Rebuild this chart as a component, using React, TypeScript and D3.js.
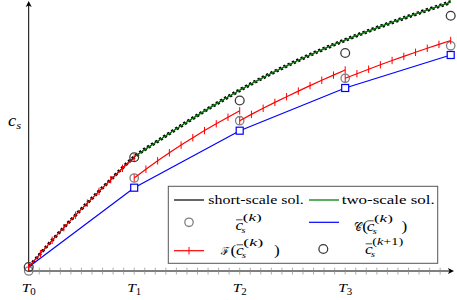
import React from 'react';
import * as d3 from 'd3';

// macro time levels T_0 .. T_4 (units of T)
const macroT = [0, 1, 2, 3, 4];
const macroLabels = ['0', '1', '2', '3'];

// short-scale solution (envelope)
const shortT = [0, 0.25, 0.5, 0.75, 1, 1.25, 1.5, 1.75, 2, 2.25, 2.5, 2.75, 3, 3.25, 3.5, 3.75, 4];
const shortC = [0.04, 0.34, 0.62, 0.885, 1.14, 1.318, 1.49, 1.654, 1.808, 1.95, 2.08, 2.2, 2.31, 2.412, 2.508, 2.6, 2.689];

// two-scale solution
const twoT = [1, 1.25, 1.5, 1.75, 2, 2.25, 2.5, 2.75, 3, 3.25, 3.5, 3.75, 4];
const twoC = [1.14, 1.318, 1.49, 1.654, 1.808, 1.95, 2.08, 2.2, 2.31, 2.412, 2.508, 2.6, 2.689];

// c̄_s^(k), c̄_s^(k+1) and C(c̄_s^(k)) at T_i
const cBarK = [0.0, 0.93, 1.503, 1.927, 2.252];
const cBarK1 = [0.04, 1.137, 1.705, 2.18, 2.553];
const coarseC = [0.04, 0.833, 1.403, 1.83, 2.16];

// F(c̄_s^(k)) on each macro interval, 10 samples each
const fineSeg1 = [0.04, 0.173, 0.307, 0.433, 0.558, 0.679, 0.797, 0.913, 1.027, 1.13];
const fineSeg2 = [0.93, 1.018, 1.102, 1.182, 1.259, 1.333, 1.404, 1.472, 1.538, 1.602];
const fineSeg3 = [1.503, 1.566, 1.627, 1.686, 1.743, 1.799, 1.854, 1.907, 1.959, 2.01];
const fineSeg4 = [1.927, 1.973, 2.018, 2.062, 2.105, 2.146, 2.187, 2.227, 2.266, 2.305];
const fineSegs = [fineSeg1, fineSeg2, fineSeg3, fineSeg4];

const serif = '"Liberation Serif", "DejaVu Serif", serif';
const SX = 1.15; // glyphs in the figure are a bit wide

// one glyph run at (x, baseline y), horizontally widened
const G: React.FC<{
  x: number;
  y: number;
  size: number;
  italic?: boolean;
  len?: number;
  sx?: number;
  children: React.ReactNode;
}> = ({ x, y, size, italic, len, sx = SX, children }) => (
  <text
    transform={`translate(${x},${y}) scale(${sx},1)`}
    fontSize={size}
    fontStyle={italic ? 'italic' : 'normal'}
    style={{ fontFamily: serif }}
    textLength={len ? len / sx : undefined}
    lengthAdjust={len ? 'spacingAndGlyphs' : undefined}
  >
    {children}
  </text>
);

// c̄_s^(k...) with c at (x, baseline y)
const CBar: React.FC<{ x: number; y: number; sup: string; supLen: number }> = ({ x, y, sup, supLen }) => (
  <g>
    <G x={x} y={y} size={15} italic>
      c
    </G>
    <line x1={x + 0.6} x2={x + 7} y1={y - 10.2} y2={y - 10.2} stroke="#000" strokeWidth={0.7} />
    <G x={x + 6} y={y + 3.2} size={9} italic>
      s
    </G>
    <G x={x + 7.2} y={y - 9.4} size={10} len={supLen}>
      (<tspan fontStyle="italic">k</tspan>
      {sup})
    </G>
  </g>
);

export default function App() {
  const width = 457;
  const height = 300;

  const x = d3.scaleLinear().domain([0, 4]).range([28.7, 450.7]);
  const y = d3.scaleLinear().domain([0, 2.7]).range([271, 1]);

  const smooth = d3
    .line<[number, number]>()
    .x((d) => x(d[0]))
    .y((d) => y(d[1]))
    .curve(d3.curveMonotoneX);
  const straight = d3
    .line<[number, number]>()
    .x((d) => x(d[0]))
    .y((d) => y(d[1]));

  const shortPath = smooth(d3.zip(shortT, shortC) as [number, number][]) || '';
  const twoPath = smooth(d3.zip(twoT, twoC) as [number, number][]) || '';
  const coarsePath = straight(d3.zip(macroT, coarseC) as [number, number][]) || '';

  const fine = fineSegs.map((seg, i) =>
    seg.map((v, j) => [macroT[i] + j / (seg.length - 1), v] as [number, number])
  );

  const x0 = x(0);
  const yAxis = y(0);
  const minorTicks = d3.range(1, 40).map((k) => k / 10);

  return (
    <svg
      width={width}
      height={height}
      style={{ position: 'absolute', left: 0, top: 0, background: '#fff', fontFamily: serif }}
    >
      {/* axes */}
      <g stroke="#000" fill="none">
        <line x1={x0} x2={x0} y1={yAxis} y2={5} strokeWidth={1} />
        <line x1={x0} x2={449} y1={yAxis} y2={yAxis} strokeWidth={1} />
        {minorTicks.map((t) => (
          <line key={t} x1={x(t)} x2={x(t)} y1={yAxis - 3.3} y2={yAxis + 3.5} stroke="#8a8a8a" strokeWidth={0.7} />
        ))}
      </g>
      <path d={`M${x0},1 L${x0 - 3},7 L${x0},5.6 L${x0 + 3},7 Z`} fill="#000" />
      <path d={`M454,${yAxis} L448,${yAxis - 3} L449.4,${yAxis} L448,${yAxis + 3} Z`} fill="#000" />

      {/* tick labels */}
      {macroLabels.map((lab, i) => (
        <g key={lab} transform={`translate(${x(macroT[i])},292) scale(${SX},1)`}>
          <text textAnchor="middle" fontSize={13.5} style={{ fontFamily: serif }}>
            <tspan fontStyle="italic">T</tspan>
            <tspan fontSize={9.5} dy={3}>
              {lab}
            </tspan>
          </text>
        </g>
      ))}
      <G x={8} y={126} size={16} italic>
        c<tspan fontSize={11} dy={3}>s</tspan>
      </G>

      {/* short-scale solution with fast oscillation */}
      <path d={shortPath} fill="none" stroke="#000" strokeWidth={1} />
      <path d={shortPath} fill="none" stroke="#000" strokeWidth={1.5} strokeDasharray="2.4 2.4" transform="translate(0,-1.3)" />
      <path
        d={shortPath}
        fill="none"
        stroke="#000"
        strokeWidth={1.5}
        strokeDasharray="2.4 2.4"
        strokeDashoffset={2.4}
        transform="translate(0,1.3)"
      />
      {/* two-scale solution */}
      <path d={twoPath} fill="none" stroke="#008000" strokeWidth={1.3} />

      {/* c̄_s^(k) */}
      {cBarK.map((v, i) => (
        <circle key={i} cx={x(macroT[i])} cy={y(v)} r={4.2} fill="none" stroke="#808080" strokeWidth={1.3} />
      ))}

      {/* C(c̄_s^(k)) */}
      <path d={coarsePath} fill="none" stroke="#0000ff" strokeWidth={1.2} />
      {coarseC.slice(1).map((v, i) => (
        <rect
          key={i}
          x={x(macroT[i + 1]) - 3.5}
          y={y(v) - 3.5}
          width={7}
          height={7}
          fill="#fff"
          stroke="#0000ff"
          strokeWidth={1.2}
        />
      ))}

      {/* F(c̄_s^(k)) */}
      {fine.map((pts, i) => (
        <g key={i}>
          <path d={straight(pts) || ''} fill="none" stroke="#ff0000" strokeWidth={1.2} />
          {pts.map((p, j) => (
            <line key={j} x1={x(p[0])} x2={x(p[0])} y1={y(p[1]) - 3.7} y2={y(p[1]) + 3.7} stroke="#ff0000" strokeWidth={1} />
          ))}
        </g>
      ))}

      {/* c̄_s^(k+1) */}
      {cBarK1.map((v, i) => (
        <circle key={i} cx={x(macroT[i])} cy={y(v)} r={4.4} fill="none" stroke="#3a3a3a" strokeWidth={1.3} />
      ))}

      {/* legend */}
      <g>
        <rect x={168.3} y={186.3} width={269.4} height={77} fill="#fff" stroke="#555" strokeWidth={1} />
        <line x1={174} x2={204} y1={200} y2={200} stroke="#000" strokeWidth={1.2} />
        <text x={208.3} y={203.5} fontSize={12.5} textLength={95.5} lengthAdjust="spacingAndGlyphs" style={{ fontFamily: serif }}>
          short-scale sol.
        </text>
        <line x1={309} x2={339} y1={200} y2={200} stroke="#008000" strokeWidth={1.3} />
        <text x={341.7} y={203.5} fontSize={12.5} textLength={93} lengthAdjust="spacingAndGlyphs" style={{ fontFamily: serif }}>
          two-scale sol.
        </text>

        <circle cx={189} cy={222.3} r={4.2} fill="none" stroke="#808080" strokeWidth={1.3} />
        <CBar x={235.5} y={230} sup="" supLen={19} />

        <line x1={309} x2={339} y1={222.3} y2={222.3} stroke="#0000ff" strokeWidth={1.2} />
        <G x={354} y={231} size={11} sx={0.8} len={7.5}>
          𝒞
        </G>
        <G x={362.3} y={231} size={15}>
          (
        </G>
        <CBar x={366.7} y={231} sup="" supLen={19} />
        <G x={401.5} y={231} size={15}>
          )
        </G>

        <line x1={174} x2={204} y1={250.7} y2={250.7} stroke="#ff0000" strokeWidth={1.2} />
        <line x1={189} x2={189} y1={247} y2={254.4} stroke="#ff0000" strokeWidth={1} />
        <G x={221} y={255} size={11} sx={0.8} len={8}>
          ℱ
        </G>
        <G x={230.5} y={255} size={15}>
          (
        </G>
        <CBar x={236} y={255} sup="" supLen={20} />
        <G x={274} y={255} size={15}>
          )
        </G>

        <circle cx={323.3} cy={249} r={4.4} fill="none" stroke="#3a3a3a" strokeWidth={1.3} />
        <CBar x={365} y={254} sup="+1" supLen={31} />
      </g>
    </svg>
  );
}
